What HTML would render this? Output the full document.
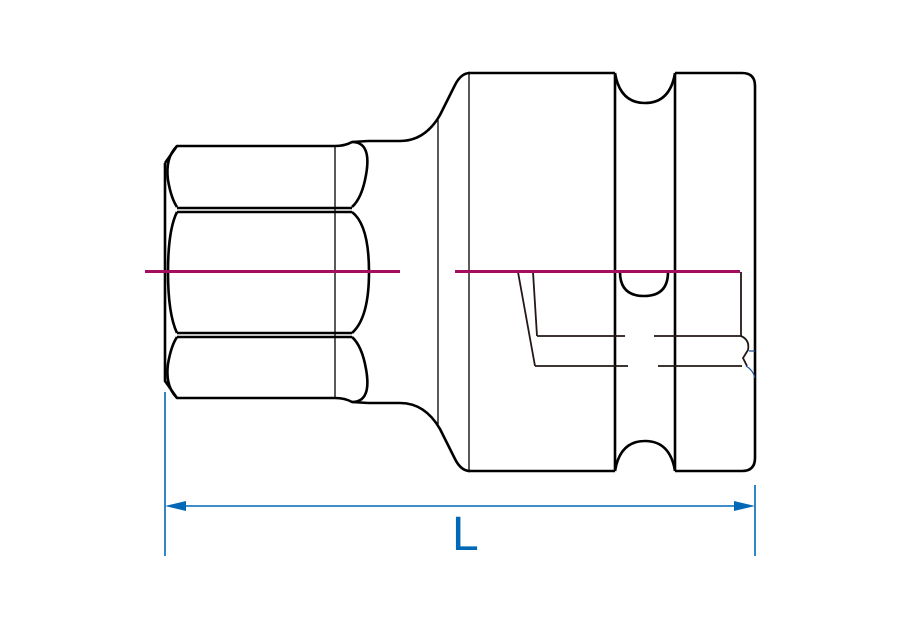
<!DOCTYPE html>
<html><head><meta charset="utf-8"><style>html,body{margin:0;padding:0;background:#fff}svg{display:block}</style></head>
<body>
<svg width="900" height="630" viewBox="0 0 900 630" xmlns="http://www.w3.org/2000/svg">
<g fill="none" stroke="#000" stroke-width="2.6" stroke-linejoin="round">
<!-- hex -->
<path d="M165,163 L165,381 L177,398 L335,398 Q345,398 352,402 L368,403"/>
<path d="M165,163 L177,146 L335,146 Q345,146 352,142 L368,141"/>
<path d="M352,142 Q372,142 366,175 Q362,198 352,207"/>
<path d="M177,146 Q165,158 168,180 Q171,198 177,207"/>
<path d="M177,208 L352,208 M177,212 L352,212"/>
<path d="M352,212 Q369,225 369,272 Q369,318 352,333"/>
<path d="M177,212 Q168,230 168,272 Q168,314 177,333"/>
<path d="M177,333 L352,333 M177,337 L352,337"/>
<path d="M352,337 Q362,346 366,369 Q372,402 352,402"/>
<path d="M177,337 Q171,346 168,364 Q165,386 177,398"/>
<!-- neck -->
<path d="M368,141 L400,141 Q425,141 440,115 L455,85 Q461,73 470,73"/>
<path d="M368,403 L400,403 Q425,403 440,429 L455,459 Q461,471 470,471"/>
<!-- body -->
<path d="M468,73 L615,73 M468,471 L615,471"/>
<path d="M615,73 L615,471 M675,73 L675,471"/>
<path d="M615,73 Q620,103 645,103 Q670,103 675,73"/>
<path d="M615,471 Q620,441 645,441 Q670,441 675,471"/>
<path d="M675,73 L742,73 Q755,73 755,86 L755,458 Q755,471 742,471 L675,471"/>
<path d="M620,272 Q620,296 644,296 Q668,296 668,272"/>
</g>
<g fill="none" stroke="#000" stroke-width="1.3">
<path d="M335,146 L335,398 M438,118 L438,426 M469,73 L469,471"/>
</g>
<g fill="none" stroke="#231815" stroke-width="1.8">
<path d="M518,272 L535,366 M533,272 L537,336"/>
<path d="M537,336 L625,336 M654,336 L742,336"/>
<path d="M535,366 L628,366 M658,366 L742,366"/>
<path d="M741,272 L741,336 Q750,340 748,350 L743,358 L747,366"/>
</g>
<path d="M749,351 L755,351 M746,366 Q753,370 755,378" stroke="#1b4f9c" stroke-width="1.2" fill="none"/>
<g stroke="#a50e5e" stroke-width="3">
<path d="M145,271.5 L400,271.5 M455,271.5 L740,271.5"/>
</g>
<g stroke="#0068b7" stroke-width="1.6" fill="#0068b7">
<path d="M165,392 L165,556 M755,485 L755,556 M180,506 L740,506" fill="none"/>
<path d="M165,506 L186,501 L186,511 Z" stroke="none"/>
<path d="M755,506 L734,501 L734,511 Z" stroke="none"/>
</g>
<text x="452" y="550" font-family="Liberation Sans, sans-serif" font-size="48" fill="#0068b7">L</text>
</svg>
</body></html>
